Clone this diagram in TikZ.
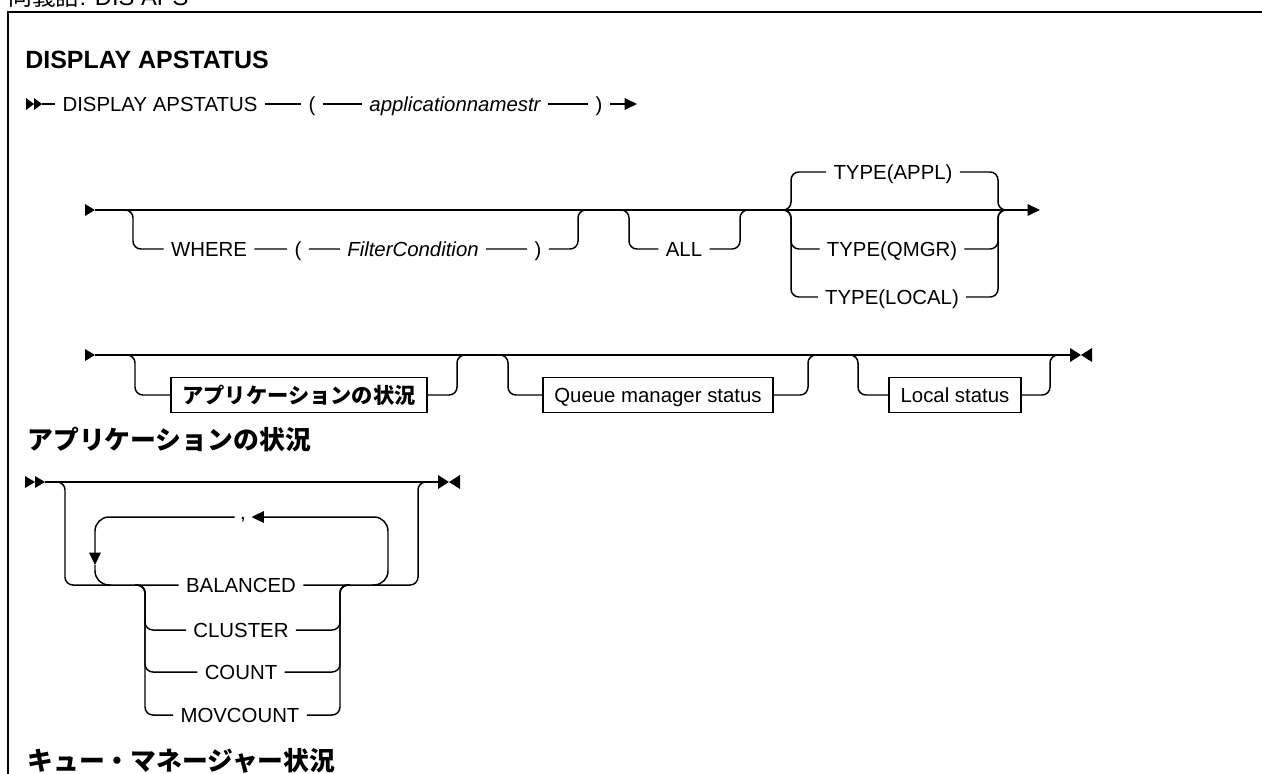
\documentclass[tikz,border=0pt]{standalone}
\usepackage{fontspec}
\setmainfont{Liberation Sans}
\newfontfamily\jpfont{Noto Sans CJK JP}
\usetikzlibrary{arrows.meta}

\begin{document}
\begin{tikzpicture}[x=0.02cm, y=-0.02cm,
  rail/.style={line width=0.85pt},
  railfork/.style={rail, rounded corners=4.5pt},
  railloop/.style={rail, rounded corners=8pt},
  railtip/.style={-{Triangle[length=7pt,width=6.5pt]}},
  kwnode/.style={font=\fontsize{11.6}{14}\selectfont, inner xsep=4pt, inner ysep=0pt, text height=8.3pt, text depth=0pt},
  varnode/.style={kwnode, font=\fontsize{11.6}{14}\selectfont\itshape},
  refbox/.style={kwnode, draw, line width=0.85pt, inner xsep=6.5pt, minimum height=20pt},
  heading/.style={anchor=west, inner sep=0pt}]

  % Page and frame
  \useasboundingbox (0,0) rectangle (1262,774);
  \clip (0,0) rectangle (1262,774);
  \draw[line width=1.2pt] (8,12) rectangle (1400,900);

  % Headings
  \node[heading, anchor=base west, font=\fontsize{13.5}{16}\selectfont] (synonym) at (8,6) {{\jpfont 同義語}: DIS APS};
  \node[heading, font=\bfseries\fontsize{14.2}{17}\selectfont] (title) at (25,60) {DISPLAY APSTATUS};
  \node[heading, font=\jpfont\bfseries\fontsize{14.7}{18}\selectfont] (apphead) at (27,440) {アプリケーションの状況};
  \node[heading, font=\jpfont\bfseries\fontsize{14.7}{18}\selectfont] (qmhead) at (27,761) {キュー・マネージャー状況};

  % Start and end markers
  \foreach \x/\y/\w in {26/104/8, 34/104/8, 25/482/10, 35/482/10, 85/210/10, 85/355/10}
    \fill (\x,\y-6) -- ++(\w,6) -- ++(-\w,6) -- cycle;
  \foreach \x/\y in {1070/355, 438/482} {
    \fill (\x,\y-7) -- ++(11,7) -- ++(-11,7) -- cycle;
    \fill (\x+22,\y-7) -- ++(-11,7) -- ++(11,7) -- cycle;
  }

  % Row 1
  \coordinate (r1s) at (42,104);
  \coordinate (r1e) at (637,104);
  \node[kwnode] (cmd) at (160,104) {DISPLAY APSTATUS};
  \node[kwnode] (lpar) at (312,104) {(};
  \node[varnode] (appname) at (455,104) {applicationnamestr};
  \node[kwnode] (rpar) at (599,104) {)};
  \draw[rail, railtip] (r1s) -- (cmd) -- (lpar) -- (appname) -- (rpar) -- (r1e);

  % Row 2
  \coordinate (r2s) at (95,210);
  \coordinate (r2e) at (1040,210);
  \draw[rail, railtip] (r2s) -- (r2e);

  % WHERE
  \node[kwnode] (where) at (209,249) {WHERE};
  \node[kwnode] (wlpar) at (298,249) {(};
  \node[varnode] (filter) at (413,249) {FilterCondition};
  \node[kwnode] (wrpar) at (538,249) {)};
  \coordinate (win) at (123,210);
  \coordinate (wout) at (578,210);
  \draw[railfork] (win) -| ++(10,39) -- (where) -- (wlpar) -- (filter) -- (wrpar) -| (wout) -- ++(9,0);

  % ALL
  \node[kwnode] (all) at (684,249) {ALL};
  \coordinate (ain) at (619,210);
  \coordinate (aout) at (740,210);
  \draw[railfork] (ain) -| ++(10,39) -- (all) -| (aout) -- ++(8,0);

  % TYPE
  \node[kwnode] (tappl) at (893,172) {TYPE(APPL)};
  \node[kwnode] (tqmgr) at (892,249) {TYPE(QMGR)};
  \node[kwnode] (tlocal) at (892,297) {TYPE(LOCAL)};
  \coordinate (tin) at (781,210);
  \coordinate (tout) at (998,210);
  \foreach \opt/\dy in {tappl/-38, tqmgr/39, tlocal/87}
    \draw[railfork] (tin) -| ++(10,\dy) -- (\opt) -| (tout) -- ++(10,0);

  % Row 3
  \coordinate (r3s) at (95,355);
  \coordinate (r3e) at (1070,355);
  \draw[rail] (r3s) -- (r3e);
  \node[refbox, font=\jpfont\bfseries\fontsize{12.1}{14}\selectfont, text height=10.2pt, text depth=1pt] (appbox) at (299,395) {アプリケーションの状況};
  \node[refbox] (qmbox) at (658,395) {Queue manager status};
  \node[refbox] (localbox) at (955,395) {Local status};
  \foreach \bx/\xin/\xout in {appbox/125/457, qmbox/498/808, localbox/848/1050} {
    \coordinate (\bx-in) at (\xin,355);
    \coordinate (\bx-out) at (\xout,355);
    \draw[railfork] (\bx-in) -| ++(10,40) -- (\bx) -| (\bx-out) -- ++(8,0);
  }

  % Row 4
  \coordinate (r4s) at (45,482);
  \coordinate (r4e) at (438,482);
  \draw[rail] (r4s) -- (r4e);
  \node[kwnode] (bal) at (241,585) {BALANCED};
  \node[kwnode] (clu) at (241,630) {CLUSTER};
  \node[kwnode] (cnt) at (241,672) {COUNT};
  \node[kwnode] (mov) at (240,715) {MOVCOUNT};
  \coordinate (oin) at (55,482);
  \coordinate (oout) at (418,482);
  \draw[railfork] (oin) -| ++(10,103) -- (bal) -| (oout) -- ++(10,0);

  % Choices
  \coordinate (gin) at (135,585);
  \coordinate (gout) at (340,585);
  \foreach \opt/\dy in {clu/45, cnt/87, mov/130}
    \draw[railfork] (gin) -| ++(10,\dy) -- (\opt) -| (gout) -- ++(10,0);

  % Repeat loop
  \node[kwnode, text height=4.4pt, text depth=2pt, inner xsep=3pt] (sep) at (243,517) {,};
  \coordinate (lrin) at (372,585);
  \coordinate (ltop) at (388,517);
  \coordinate (ldown) at (95,565);
  \draw[railloop, railtip] (lrin) -| (ltop) -- (sep);
  \draw[railloop, railtip] (sep) -| (ldown);
  \draw[railloop] (ldown) |- ++(16,20);
\end{tikzpicture}
\end{document}
